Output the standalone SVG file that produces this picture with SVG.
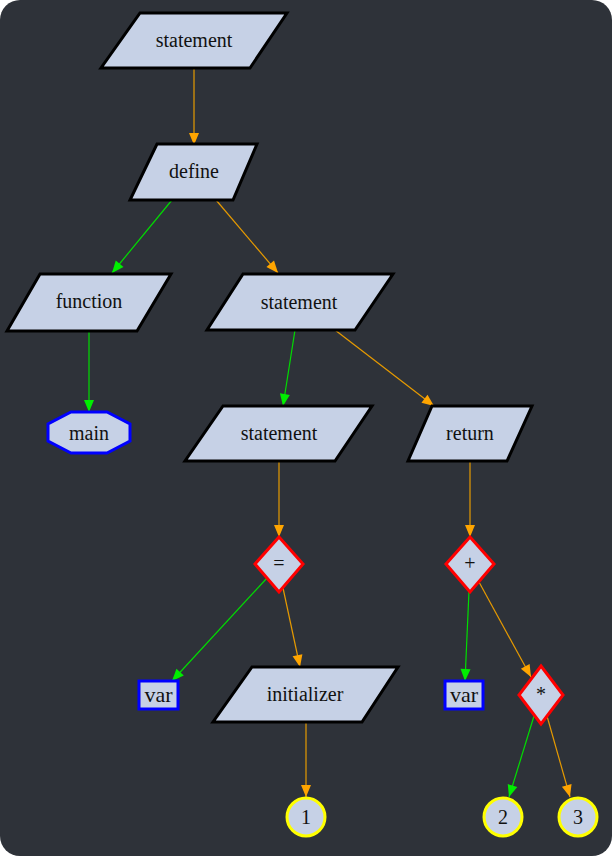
<svg xmlns="http://www.w3.org/2000/svg" width="612" height="856" viewBox="0 0 612 856">
<defs>
<style>
.bg{fill:#2e3239}
.para{fill:#c6d1e6;stroke:#000;stroke-width:3}
.op{fill:#c6d1e6;stroke:#ff0000;stroke-width:3}
.id{fill:#c6d1e6;stroke:#0000ff;stroke-width:3}
.num{fill:#c6d1e6;stroke:#ffff00;stroke-width:3}
.t{font-family:'Liberation Serif',serif;font-size:20px;fill:#111;text-anchor:middle}
.v{font-size:22px}
.e{fill:none;stroke-width:1.2}
.g{stroke:#00dd00}
.o{stroke:#e69a00}
</style>
<marker id="ag" markerUnits="userSpaceOnUse" markerWidth="14" markerHeight="14" viewBox="0 0 14 14" refX="13" refY="7" orient="auto"><path d="M1,2 L13,7 L1,12 Z" fill="#00ee00"/></marker>
<marker id="ao" markerUnits="userSpaceOnUse" markerWidth="14" markerHeight="14" viewBox="0 0 14 14" refX="13" refY="7" orient="auto"><path d="M1,2 L13,7 L1,12 Z" fill="#ffa500"/></marker>
</defs>
<rect width="612" height="856" fill="#fff"/>
<rect class="bg" width="612" height="856" rx="20" ry="20"/>
<g id="connectors">
<line class="e o" x1="194" y1="69" x2="194" y2="145" marker-end="url(#ao)"/>
<line class="e g" x1="172" y1="200" x2="112" y2="273" marker-end="url(#ag)"/>
<line class="e o" x1="216" y1="200" x2="278" y2="273" marker-end="url(#ao)"/>
<line class="e g" x1="89" y1="331" x2="89" y2="412" marker-end="url(#ag)"/>
<line class="e g" x1="295" y1="330" x2="283" y2="406" marker-end="url(#ag)"/>
<line class="e o" x1="335" y1="330" x2="434" y2="406" marker-end="url(#ao)"/>
<line class="e o" x1="279" y1="461" x2="279" y2="537" marker-end="url(#ao)"/>
<line class="e o" x1="470" y1="461" x2="470" y2="537" marker-end="url(#ao)"/>
<line class="e g" x1="267" y1="578" x2="172" y2="681" marker-end="url(#ag)"/>
<line class="e o" x1="283" y1="588" x2="300" y2="667" marker-end="url(#ao)"/>
<line class="e o" x1="306" y1="722" x2="306" y2="797" marker-end="url(#ao)"/>
<line class="e g" x1="469" y1="591" x2="465" y2="681" marker-end="url(#ag)"/>
<line class="e o" x1="479" y1="582" x2="531" y2="677" marker-end="url(#ao)"/>
<line class="e g" x1="534" y1="716" x2="509" y2="797" marker-end="url(#ag)"/>
<line class="e o" x1="547" y1="716" x2="570" y2="797" marker-end="url(#ao)"/>
</g>
<g id="n_statement1"><polygon class="para" points="140,13 287,13 250,68 101,68"/><text class="t" x="194" y="47">statement</text></g>
<g id="n_define"><polygon class="para" points="157,144 257,144 233,200 130,200"/><text class="t" x="194" y="178">define</text></g>
<g id="n_function"><polygon class="para" points="40,274 171,274 137,331 7,331"/><text class="t" x="89" y="308">function</text></g>
<g id="n_main"><polygon class="id" points="71,412 107,412 130,424 130,441 107,453 71,453 48,441 48,424"/><text class="t" x="89" y="440">main</text></g>
<g id="n_statement2"><polygon class="para" points="243,274 393,274 355,330 207,330"/><text class="t" x="299" y="309">statement</text></g>
<g id="n_statement3"><polygon class="para" points="223,406 372,406 335,461 185,461"/><text class="t" x="279" y="440">statement</text></g>
<g id="n_return"><polygon class="para" points="432,406 532,406 507,461 408,461"/><text class="t" x="470" y="440">return</text></g>
<g id="n_assign"><polygon class="op" points="279,537 303,564 279,592 255,564"/><text class="t" x="279" y="570">=</text></g>
<g id="n_var1"><rect class="id" x="139" y="681" width="39" height="28"/><text class="t v" x="158.5" y="702">var</text></g>
<g id="n_initializer"><polygon class="para" points="252,667 398,667 362,722 213,722"/><text class="t" x="305" y="701">initializer</text></g>
<g id="n_1"><circle class="num" cx="306" cy="817" r="19"/><text class="t" x="306" y="824">1</text></g>
<g id="n_plus"><polygon class="op" points="470,537 494,564 470,592 446,564"/><text class="t" x="470" y="570">+</text></g>
<g id="n_var2"><rect class="id" x="445" y="681" width="38" height="28"/><text class="t v" x="464" y="702">var</text></g>
<g id="n_mul"><polygon class="op" points="541,666 563,695 541,724 519,695"/><text class="t" x="541" y="701">*</text></g>
<g id="n_2"><circle class="num" cx="503" cy="817" r="19"/><text class="t" x="503" y="824">2</text></g>
<g id="n_3"><circle class="num" cx="578" cy="817" r="19"/><text class="t" x="578" y="824">3</text></g>
</svg>
